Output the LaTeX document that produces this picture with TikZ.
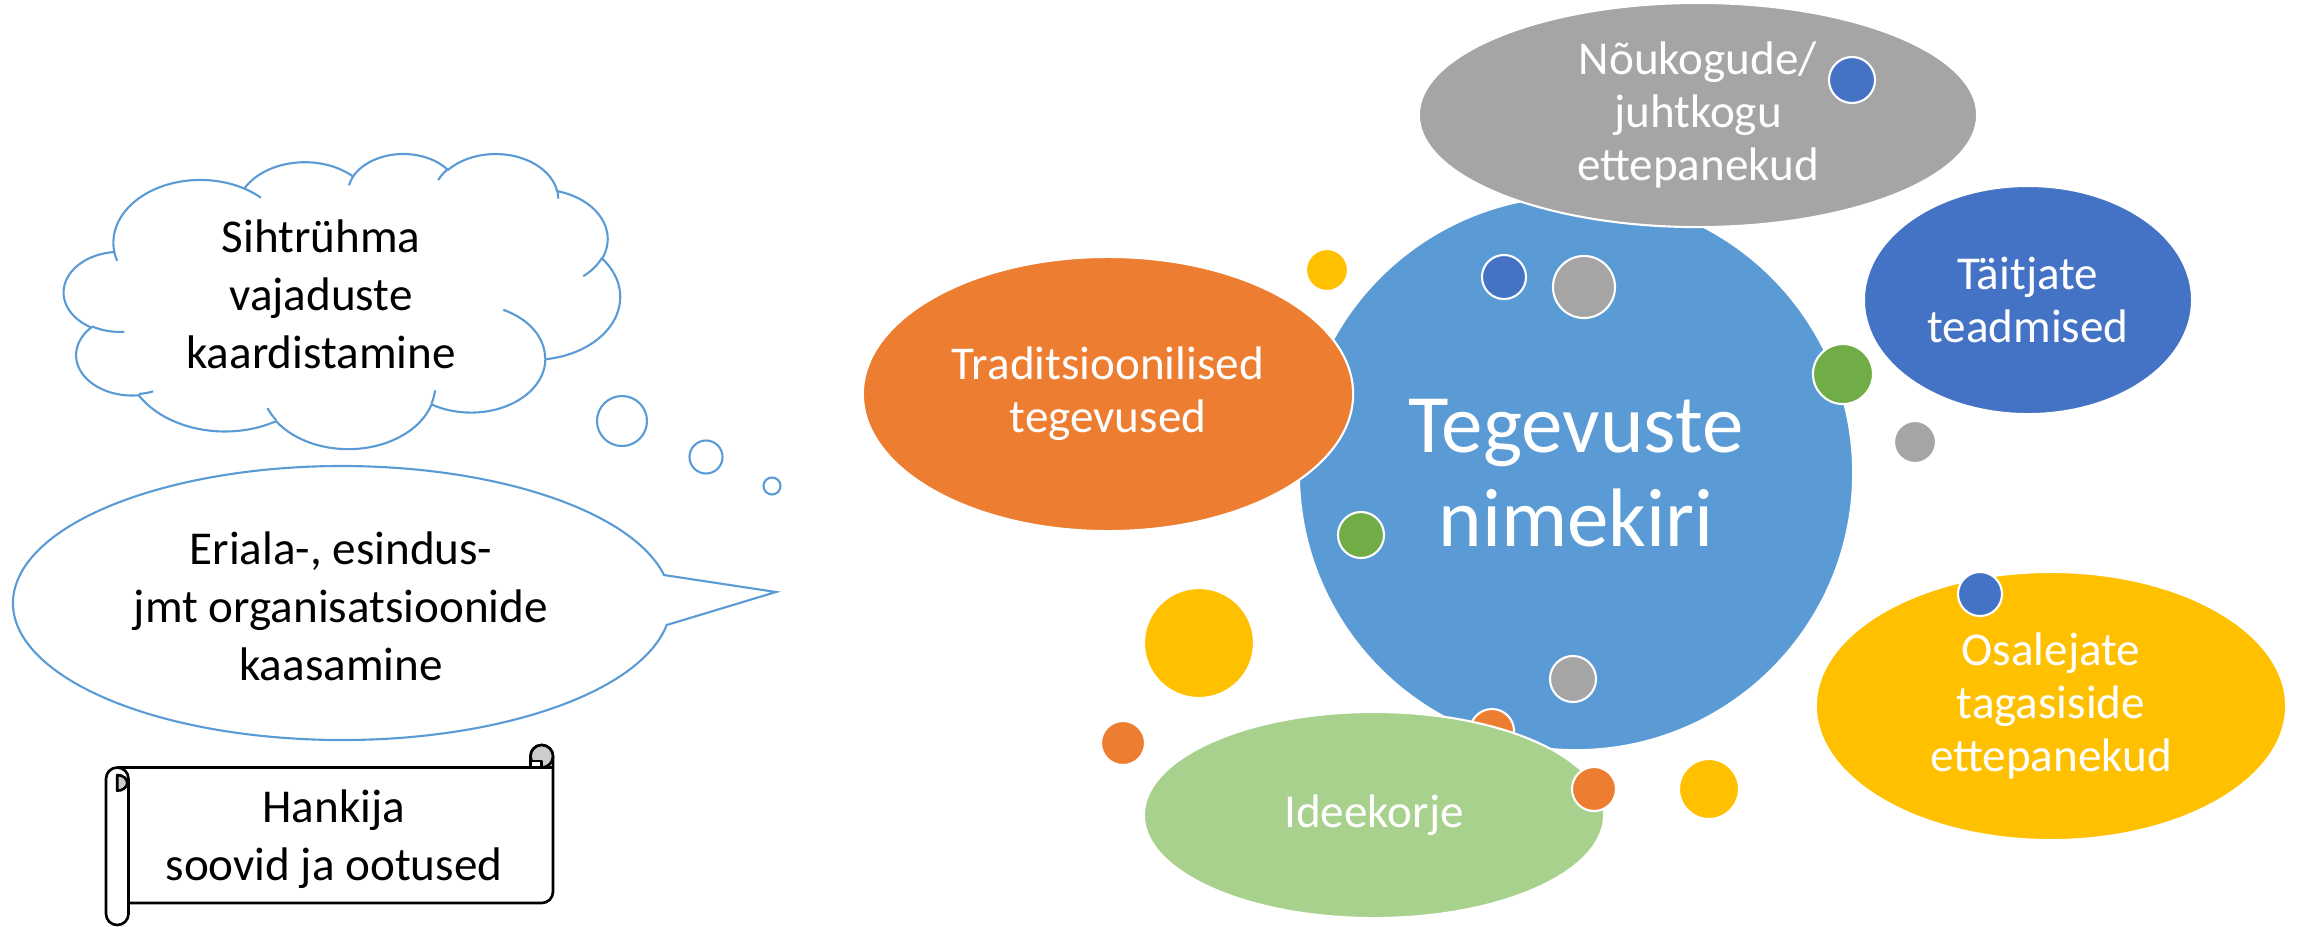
\documentclass[tikz,border=0pt]{standalone}
\usepackage{fontspec}
\setmainfont{Carlito}
\usetikzlibrary{shapes.geometric}
\definecolor{cblue}{HTML}{5B9BD5}
\definecolor{corange}{HTML}{ED7D31}
\definecolor{cgray}{HTML}{A5A5A5}
\definecolor{cyellow}{HTML}{FFC000}
\definecolor{cdblue}{HTML}{4472C4}
\definecolor{cgreen}{HTML}{70AD47}
\definecolor{clgreen}{HTML}{A9D18E}
\definecolor{scrollgray}{HTML}{CDCDCD}
% geometric angle (OOXML) -> parametric start / delta
\newcommand\mkarc[6]{%
  \pgfmathsetmacro#5{atan2((#1)*sin(#3),(#2)*cos(#3))}%
  \pgfmathsetmacro\mkarcE{atan2((#1)*sin((#3)+(#4)),(#2)*cos((#3)+(#4)))}%
  \pgfmathsetmacro#6{mod(\mkarcE-#5+720,360)}%
}
\begin{document}
\begin{tikzpicture}[x=0.01cm, y=-0.01cm,
  bub/.style={ellipse, draw=white, line width=0.6pt, inner sep=0pt, align=center,
    text=white, font=\fontsize{13.4}{15.1}\selectfont},
  dot/.style={circle, draw=white, line width=0.6pt, inner sep=0pt},
  bline/.style={draw=cblue, line width=0.6pt},
  thought/.style={circle, draw=cblue, line width=0.6pt, fill=white, inner sep=0pt},
  lefttext/.style={align=center, inner sep=0pt, text=black,
    font=\fontsize{13.4}{16.5}\selectfont},
  scrollline/.style={draw=black, line width=0.75pt, line join=round},
]
\useasboundingbox (0,0) rectangle (2302,926);

% ---------- cloud ----------
\mkarc{67.53}{91.90}{-190.487}{123.781}{\cSa}{\cDa}
\mkarc{53.33}{72.67}{-144.102}{89.945}{\cSb}{\cDb}
\mkarc{43.65}{59.45}{-145.808}{99.723}{\cSc}{\cDc}
\mkarc{48.57}{65.95}{-130.986}{117.242}{\cSd}{\cDd}
\mkarc{53.33}{72.73}{-78.709}{109.027}{\cSe}{\cDe}
\mkarc{67.75}{92.20}{-46.267}{130.269}{\cSf}{\cDf}
\mkarc{57.85}{78.67}{0.625}{114.033}{\cSg}{\cDg}
\mkarc{67.52}{92.15}{22.452}{115.173}{\cSh}{\cDh}
\mkarc{77.20}{105.43}{66.243}{75.711}{\cSi}{\cDi}
\mkarc{43.60}{59.18}{-274.942}{146.736}{\cSj}{\cDj}
\mkarc{43.45}{59.45}{-246.829}{152.519}{\cSk}{\cDk}
\mkarc{43.45}{59.45}{86.742}{26.430}{\hSa}{\hDa}
\mkarc{43.60}{59.18}{73.610}{11.447}{\hSb}{\hDb}
\mkarc{67.52}{92.15}{137.624}{14.081}{\hSc}{\hDc}
\mkarc{67.52}{92.15}{6.453}{15.998}{\hSd}{\hDd}
\mkarc{57.85}{78.67}{-70.292}{70.917}{\hSe}{\hDe}
\mkarc{53.33}{72.73}{30.318}{27.752}{\hSf}{\hDf}
\mkarc{48.57}{65.95}{-13.744}{14.859}{\hSg}{\hDg}
\mkarc{48.57}{65.95}{-149.181}{18.195}{\hSh}{\hDh}
\mkarc{43.65}{59.45}{-163.494}{17.686}{\hSi}{\hDi}
\mkarc{67.53}{91.90}{-66.707}{12.319}{\hSj}{\hDj}
\mkarc{67.53}{91.90}{157.654}{11.858}{\hSk}{\hDk}
\begin{scope}[shift={(64,153)}, xscale=1.287, yscale=0.683]
\draw[bline, fill=white] (39,143.7)
  arc[start angle=\cSa, delta angle=\cDa, x radius=67.53, y radius=91.90]
  arc[start angle=\cSb, delta angle=\cDb, x radius=53.33, y radius=72.67]
  arc[start angle=\cSc, delta angle=\cDc, x radius=43.65, y radius=59.45]
  arc[start angle=\cSd, delta angle=\cDd, x radius=48.57, y radius=65.95]
  arc[start angle=\cSe, delta angle=\cDe, x radius=53.33, y radius=72.73]
  arc[start angle=\cSf, delta angle=\cDf, x radius=67.75, y radius=92.20]
  arc[start angle=\cSg, delta angle=\cDg, x radius=57.85, y radius=78.67]
  arc[start angle=\cSh, delta angle=\cDh, x radius=67.52, y radius=92.15]
  arc[start angle=\cSi, delta angle=\cDi, x radius=77.20, y radius=105.43]
  arc[start angle=\cSj, delta angle=\cDj, x radius=43.60, y radius=59.18]
  arc[start angle=\cSk, delta angle=\cDk, x radius=43.45, y radius=59.45]
  -- cycle;
\draw[bline]
  (46.93,261.77) arc[start angle=\hSa, delta angle=\hDa, x radius=43.45, y radius=59.45]
  (69.28,348.99) arc[start angle=\hSb, delta angle=\hDb, x radius=43.60, y radius=59.18]
  (164.78,390.90) arc[start angle=\hSc, delta angle=\hDc, x radius=67.52, y radius=92.15]
  (288.27,347.51) arc[start angle=\hSd, delta angle=\hDd, x radius=67.52, y radius=92.15]
  (341.29,229.54) arc[start angle=\hSe, delta angle=\hDe, x radius=57.85, y radius=78.67]
  (417.98,153.54) arc[start angle=\hSf, delta angle=\hDf, x radius=53.33, y radius=72.73]
  (383.24,54.26) arc[start angle=\hSg, delta angle=\hDg, x radius=48.57, y radius=65.95]
  (290.78,39.52) arc[start angle=\hSh, delta angle=\hDh, x radius=48.57, y radius=65.95]
  (221.41,47.20) arc[start angle=\hSi, delta angle=\hDi, x radius=43.65, y radius=59.45]
  (140.00,51.92) arc[start angle=\hSj, delta angle=\hDj, x radius=67.53, y radius=91.90]
  (41.27,157.89) arc[start angle=\hSk, delta angle=\hDk, x radius=67.53, y radius=91.90];
\end{scope}
\node[lefttext] (cloudtext) at (321,294) {Sihtrühma\\vajaduste\\kaardistamine};

% thought bubbles
\node[thought, minimum size=0.50cm] (t1) at (622,421) {};
\node[thought, minimum size=0.33cm] (t2) at (706,457) {};
\node[thought, minimum size=0.17cm] (t3) at (772,486) {};

% ---------- speech bubble ----------
\coordinate (tip) at (776,592);
\draw[bline, fill=white] (tip) -- (666.7,625)
  arc[start angle=9.24, end angle=348.21, x radius=329, y radius=137] -- cycle;
\node[lefttext] (speechtext) at (341,606) {Eriala-, esindus-\\jmt organisatsioonide\\kaasamine};

% ---------- scroll ----------
\fill[white] (128.5,767.5) rectangle (553,903);
\draw[scrollline, fill=white]
  (128.5,903) -- (541.75,903) arc[start angle=90, end angle=0, radius=11.25]
  -- (553,756.25) arc[start angle=0, end angle=-180, radius=11.25]
  -- (530.5,767.5) -- (117.25,767.5)
  arc[start angle=-90, end angle=-180, radius=11.25]
  -- (106,913.75) arc[start angle=180, end angle=0, radius=11.25]
  -- (128.5,778.75) arc[start angle=0, end angle=-90, radius=11.25];
\filldraw[scrollline, fill=scrollgray] (541.75,756.25) circle[radius=11.25];
\filldraw[scrollline, fill=white] (530.5,767.5) -- (530.5,761) -- (541.75,761) -- (541.75,767.5);
\draw[scrollline] (530.5,767.5) -- (553,767.5);
\filldraw[scrollline, fill=scrollgray] (117.25,775)
  arc[start angle=-90, end angle=90, x radius=10, y radius=7.85] -- cycle;
\node[lefttext] (scrolltext) at (334,839) {Hankija\\soovid ja ootused};

% ---------- right diagram ----------
\node[bub, circle, fill=cblue, minimum size=5.54cm,
  font=\fontsize{23.6}{26.7}\selectfont] (main) at (1576,473) {Tegevuste\\nimekiri};
\node[bub, fill=corange, minimum width=4.90cm, minimum height=2.74cm] (trad) at (1108,394)
  {Traditsioonilised\\tegevused};
\node[bub, fill=cgray, minimum width=5.58cm, minimum height=2.24cm] (nouk) at (1698,115)
  {Nõukogude/\\juhtkogu\\ettepanekud};
\node[bub, fill=cdblue, minimum width=3.28cm, minimum height=2.28cm] (taitj) at (2028,300)
  {Täitjate\\teadmised};
\node[bub, fill=cyellow, minimum width=4.70cm, minimum height=2.68cm] (osal) at (2051,706)
  {Osalejate\\tagasiside\\ettepanekud};
\node[dot, fill=corange, minimum size=0.44cm] (do2) at (1492,731) {};
\node[bub, fill=clgreen, minimum width=4.60cm, minimum height=2.06cm] (idee) at (1374,815)
  {Ideekorje};

% small dots
\node[dot, fill=cyellow, minimum size=0.42cm] (dy1) at (1327,270) {};
\node[dot, fill=cdblue, minimum size=0.44cm] (db1) at (1504,277) {};
\node[dot, fill=cgray, minimum size=0.62cm] (dg1) at (1584,287) {};
\node[dot, fill=cdblue, minimum size=0.46cm] (db2) at (1852,80) {};
\node[dot, fill=cgreen, minimum size=0.60cm] (dgr1) at (1843,374) {};
\node[dot, fill=cgray, minimum size=0.42cm] (dg2) at (1915,442) {};
\node[dot, fill=cgreen, minimum size=0.46cm] (dgr2) at (1361,535) {};
\node[dot, fill=cyellow, minimum size=1.10cm] (dy2) at (1199,643) {};
\node[dot, fill=corange, minimum size=0.44cm] (do1) at (1123,743) {};
\node[dot, fill=cgray, minimum size=0.46cm] (dg3) at (1573,679) {};
\node[dot, fill=corange, minimum size=0.44cm] (do3) at (1594,789) {};
\node[dot, fill=cyellow, minimum size=0.60cm] (dy3) at (1709,789) {};
\node[dot, fill=cdblue, minimum size=0.44cm] (db3) at (1980,594) {};
\end{tikzpicture}
\end{document}
